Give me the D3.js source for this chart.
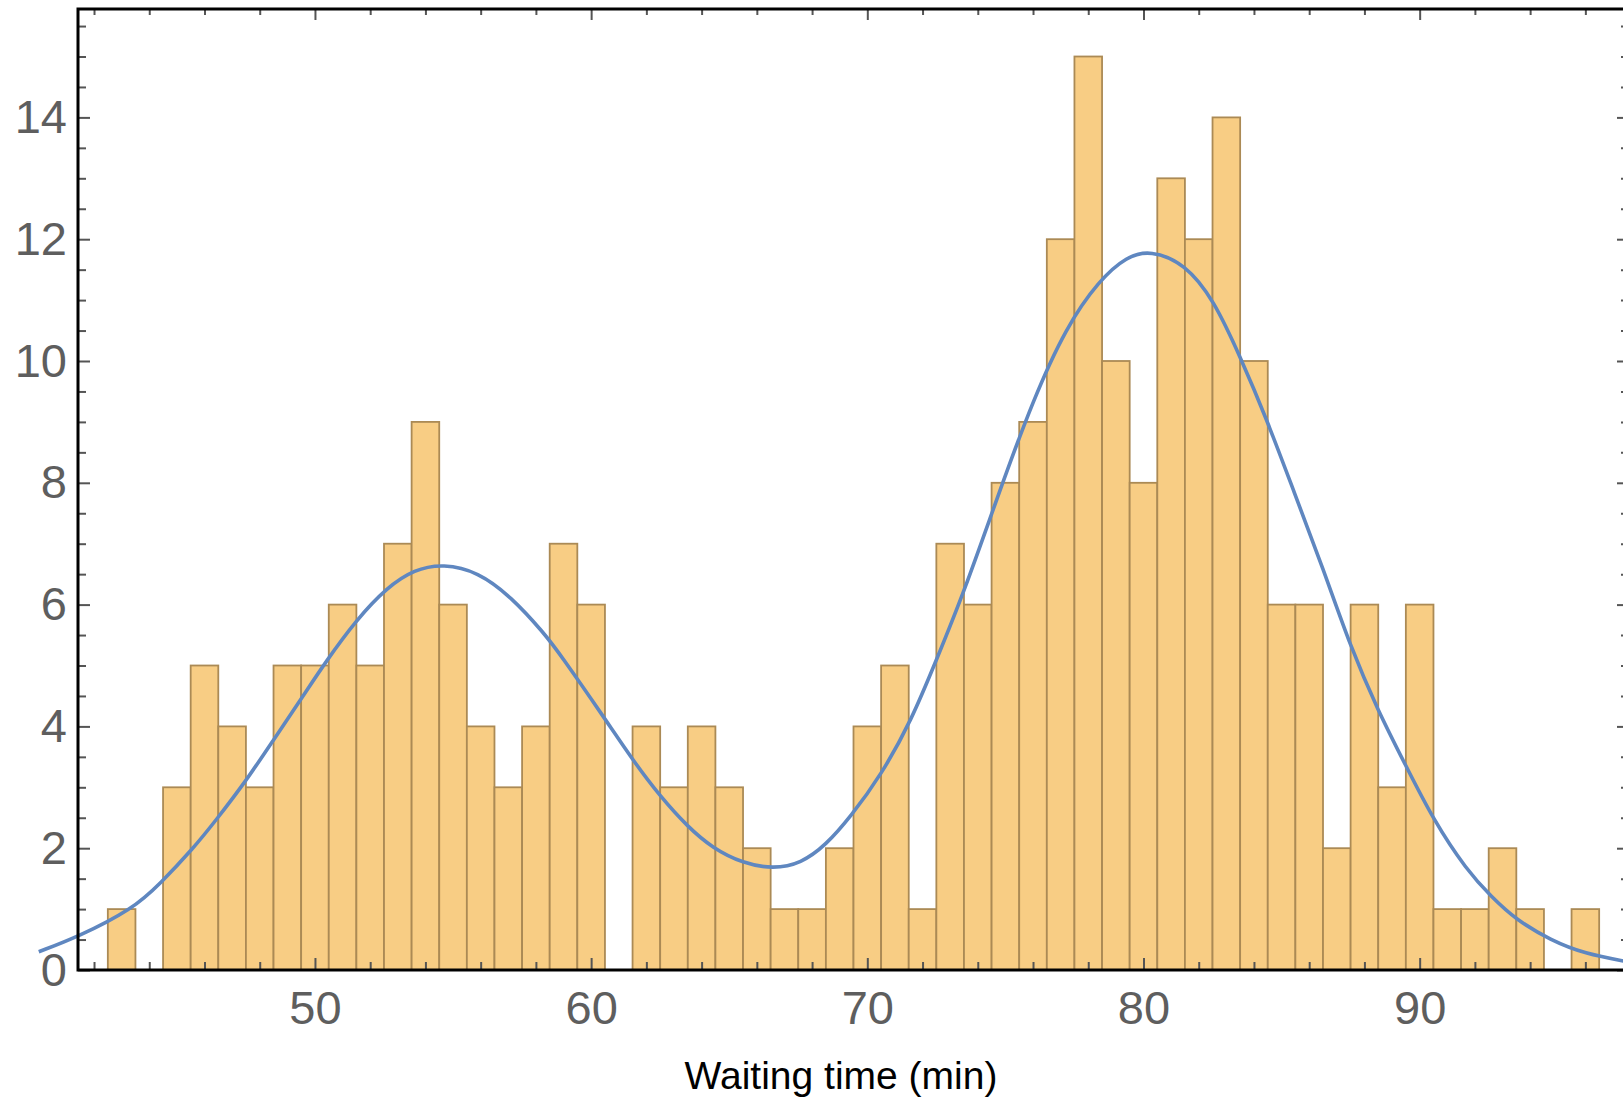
<!DOCTYPE html>
<html>
<head>
<meta charset="utf-8">
<script src="https://cdn.jsdelivr.net/npm/d3@7"></script>
<style>
  body { margin: 0; background: #fff; }
  svg { display: block; }
  .tick text { font-family: "Liberation Sans", Arial, Helvetica, sans-serif; }
</style>
</head>
<body>
<svg></svg>
<script>
// Histogram bins (centre of each 1-minute bin) and counts
const binCenters = [43, 44, 45, 46, 47, 48, 49, 50, 51, 52, 53, 54, 55, 56, 57, 58, 59, 60, 61, 62,
    63, 64, 65, 66, 67, 68, 69, 70, 71, 72, 73, 74, 75, 76, 77, 78, 79, 80, 81, 82,
    83, 84, 85, 86, 87, 88, 89, 90, 91, 92, 93, 94, 95, 96];
const counts = [1, 0, 3, 5, 4, 3, 5, 5, 6, 5, 7, 9, 6, 4, 3, 4, 7, 6, 0, 4,
    3, 4, 3, 2, 1, 1, 2, 4, 5, 1, 7, 6, 8, 9, 12, 15, 10, 8, 13, 12,
    14, 10, 6, 6, 2, 6, 3, 6, 1, 1, 2, 1, 0, 1];

// Fitted density curve
const curveX = [40.0, 41.4, 43.4, 44.4, 45.6, 46.4, 47.5, 48.5, 49.5, 50.4, 51.5, 52.6, 53.6, 54.65,
    55.9, 57.1, 58.3, 58.9, 60.45, 61.5, 62.5, 63.5, 64.4, 65.5, 66.6, 67.6, 68.5, 69.4,
    70.5, 71.6, 72.5, 73.5, 74.8, 76.0, 77.2, 78.4, 79.4, 80.25, 81.5, 82.55, 83.5, 84.45,
    85.45, 86.5, 87.5, 88.5, 89.45, 90.5, 91.7, 92.6, 93.5, 94.75, 95.95, 97.6];
const curveY = [0.30, 0.54, 1.0, 1.42, 2.0, 2.45, 3.1, 3.78, 4.45, 5.07, 5.75, 6.28, 6.58, 6.67,
    6.54, 6.13, 5.53, 5.17, 4.16, 3.45, 2.85, 2.35, 2.0, 1.75, 1.66, 1.75, 2.05, 2.52,
    3.2, 4.1, 5.09, 6.2, 7.88, 9.36, 10.56, 11.33, 11.72, 11.82, 11.6, 11.0, 10.07, 9.06,
    7.85, 6.6, 5.3, 4.25, 3.4, 2.46, 1.64, 1.2, 0.82, 0.49, 0.27, 0.13];

// Tick values
const xMajorTicks = [50, 60, 70, 80, 90];
const xMinorTicks = [42, 44, 46, 48, 52, 54, 56, 58, 62, 64, 66, 68, 72, 74, 76, 78, 82, 84, 86, 88, 92, 94, 96];
const yMajorTicks = [0, 2, 4, 6, 8, 10, 12, 14];
const yMinorTicks = [0.5, 1, 1.5, 2.5, 3, 3.5, 4.5, 5, 5.5, 6.5, 7, 7.5, 8.5, 9, 9.5, 10.5, 11, 11.5,
    12.5, 13, 13.5, 14.5, 15, 15.5];

const svgWidth = 1623;
const svgHeight = 1101;
const margin = { top: 9, left: 78, bottom: 131, right: -6 };
const w = svgWidth - margin.left - margin.right;
const h = svgHeight - margin.top - margin.bottom;

const svg = d3.select("svg")
    .attr("width", svgWidth)
    .attr("height", svgHeight);

const chart = svg.append("g")
    .attr("transform", `translate(${margin.left},${margin.top})`);

const xScale = d3.scaleLinear().domain([41.42, 97.58]).range([0, w]);
const yScale = d3.scaleLinear().domain([0, 15.78]).range([h, 0]);

// Bars
const bars = binCenters.map((c, i) => ({ c: c, n: counts[i] })).filter(d => d.n > 0);
chart.selectAll(".bar")
    .data(bars)
    .enter()
    .append("rect")
    .attr("class", "bar")
    .attr("x", d => xScale(d.c - 0.5))
    .attr("y", d => yScale(d.n))
    .attr("width", d => xScale(d.c + 0.5) - xScale(d.c - 0.5))
    .attr("height", d => yScale(0) - yScale(d.n))
    .attr("fill", "#f8cd84")
    .attr("stroke", "#ab8a55")
    .attr("stroke-width", 1.8);

// Density curve
const line = d3.line()
    .x(d => xScale(d[0]))
    .y(d => yScale(d[1]))
    .curve(d3.curveBasis);

chart.append("path")
    .datum(curveX.map((x, i) => [x, curveY[i]]))
    .attr("d", line)
    .attr("fill", "none")
    .attr("stroke", "#5f87c0")
    .attr("stroke-width", 3.6);

// Axes (ticks point inward)
function addAxis(axisFn, ticks, size, transform, labels, pad) {
    const g = chart.append("g")
        .attr("class", "axis")
        .attr("transform", transform)
        .style("color", "#555")
        .call(axisFn.tickValues(ticks).tickSize(-size).tickSizeOuter(0)
            .tickPadding(pad || 3)
            .tickFormat(labels ? d3.format("d") : ""));
    g.select(".domain").remove();
    g.selectAll(".tick line").attr("stroke-width", 2);
    g.selectAll(".tick text")
        .attr("font-size", 47)
        .attr("fill", "#5e5e5e");
    return g;
}

addAxis(d3.axisBottom(xScale), xMinorTicks, 8, `translate(0,${h})`, false);
addAxis(d3.axisBottom(xScale), xMajorTicks, 12, `translate(0,${h})`, true, 21);
addAxis(d3.axisTop(xScale), xMinorTicks, 6, "translate(0,0)", false);
addAxis(d3.axisTop(xScale), xMajorTicks, 11, "translate(0,0)", false);
addAxis(d3.axisLeft(yScale), yMinorTicks, 8, "translate(0,0)", false);
addAxis(d3.axisLeft(yScale), yMajorTicks, 12, "translate(0,0)", true, 11);
addAxis(d3.axisRight(yScale), yMinorTicks, 8, `translate(${w},0)`, false);
addAxis(d3.axisRight(yScale), yMajorTicks, 12, `translate(${w},0)`, false);

// Frame
chart.append("rect")
    .attr("x", 0)
    .attr("y", 0)
    .attr("width", w)
    .attr("height", h)
    .attr("fill", "none")
    .attr("stroke", "#000")
    .attr("stroke-width", 3);

// Axis title
svg.append("text")
    .attr("x", 841)
    .attr("y", 1089)
    .attr("text-anchor", "middle")
    .attr("font-family", "'Liberation Sans', Arial, Helvetica, sans-serif")
    .attr("font-size", 39)
    .attr("fill", "#000")
    .text("Waiting time (min)");
</script>
</body>
</html>
